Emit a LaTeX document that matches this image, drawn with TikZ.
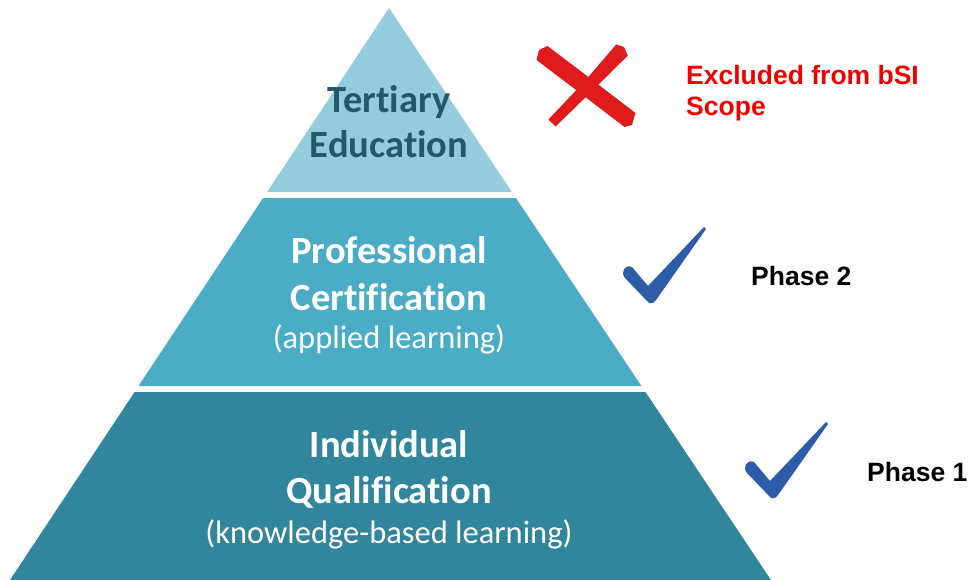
\documentclass[tikz,border=0pt]{standalone}
\usepackage{fontspec}
\setmainfont{Carlito}[Ligatures=NoCommon]
\newfontfamily\arialfont{Liberation Sans}
\definecolor{tierone}{HTML}{93CDDD}
\definecolor{tiertwo}{HTML}{4BACC6}
\definecolor{tierthree}{HTML}{31859C}
\definecolor{darkteal}{HTML}{215968}
\definecolor{tickblue}{HTML}{2D5CA8}
\definecolor{crossred}{HTML}{E01B1B}
\definecolor{notered}{HTML}{F00000}
\begin{document}
\begin{tikzpicture}[x=1pt,y=-1pt,
  head/.style={font=\fontsize{38.5}{38.5}\selectfont\bfseries, inner sep=0pt, anchor=base},
  subtext/.style={font=\fontsize{32.5}{32.5}\selectfont, inner sep=0pt, anchor=base},
  note/.style={font=\arialfont\bfseries\fontsize{26.5}{26.5}\selectfont, inner sep=0pt, anchor=base west},
  tickmk/.pic={
    \fill[tickblue] (2,3) -- (-22,-22)
      .. controls (-27,-28) and (-22,-36) .. (-15,-33)
      -- (1,-14) -- (57,-73) -- (59,-71) -- (9,0)
      .. controls (7,3) and (4,4) .. (2,3) -- cycle;
  },
  crossmk/.pic={
    \fill[crossred] (-51.5,-28) -- (-49,-38) -- (-40.5,-42) -- (3,-9) -- (47.5,25)
      -- (44,37) -- (36.5,39) -- (-4,8) -- cycle;
    \fill[crossred] (28.2,-43.5) -- (36,-41) -- (39.8,-32.5) -- (2,5) -- (-32.4,38.5)
      -- (-39.6,31.5) -- (-4,-6) -- cycle;
  }]
\useasboundingbox (0,0) rectangle (968,580);
\fill[white] (0,0) rectangle (968,580);
% pyramid tiers
\fill[tierone] (389,8) -- (511.9,192) -- (267.1,192) -- cycle;
\fill[tiertwo] (263.1,198) -- (515.9,198) -- (641.4,386) -- (138.5,386) -- cycle;
\fill[tierthree] (134.6,392) -- (645.4,392) -- (771,580) -- (10,580) -- cycle;
% tier texts
\node[head, text=darkteal] (t1a) at (389,113) {Tertiary};
\node[head, text=darkteal] (t1b) at (389,158) {Education};
\node[head, text=white] (t2a) at (389,263) {Professional};
\node[head, text=white] (t2b) at (389,310) {Certification};
\node[subtext, text=white] (t2c) at (389,348) {(applied learning)};
\node[head, text=white] (t3a) at (389,457) {Individual};
\node[head, text=white] (t3b) at (389,503) {Qualification};
\node[subtext, text=white] (t3c) at (389,543) {(knowledge-based learning)};
% marks
\pic at (588,88) {crossmk};
\pic at (647,300) {tickmk};
\pic at (769,495) {tickmk};
% side notes
\node[note, text=notered] (ex1) at (686,85) {Excluded from bSI};
\node[note, text=notered] (ex2) at (686,116) {Scope};
\node[note, text=black] (ph2) at (751,285) {Phase 2};
\node[note, text=black] (ph1) at (867,481) {Phase 1};
\end{tikzpicture}
\end{document}
